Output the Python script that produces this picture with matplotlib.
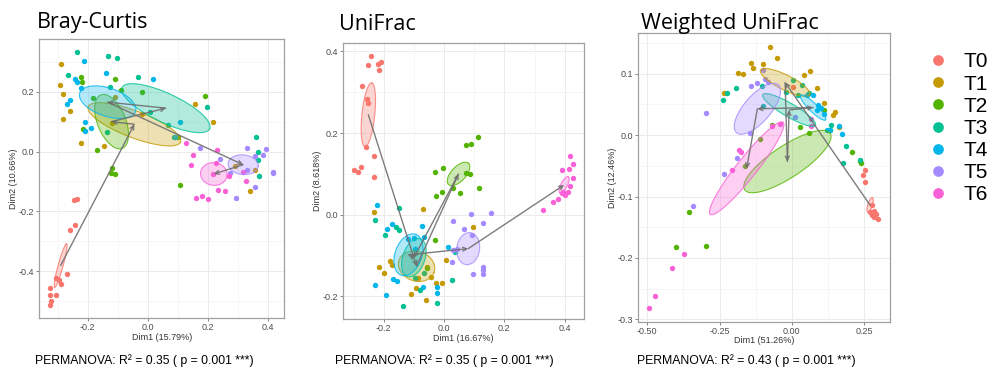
import numpy as np
import matplotlib
matplotlib.use("Agg")
import matplotlib.pyplot as plt

groups = ['T0', 'T1', 'T2', 'T3', 'T4', 'T5', 'T6']
colors = ['#F8766D', '#C49A00', '#53B400', '#00C094', '#00B6EB', '#A58AFF', '#FB61D7']

# ---- Bray-Curtis ordination ----
bc_pts = {
    'T0': [(-0.246, -0.161), (-0.234, -0.159), (-0.259, -0.261), (-0.242, -0.247), (-0.306, -0.422),
           (-0.294, -0.428), (-0.289, -0.442), (-0.270, -0.408), (-0.324, -0.456), (-0.324, -0.478),
           (-0.306, -0.478), (-0.322, -0.500), (-0.324, -0.511)],
    'T1': [(-0.287, 0.292), (-0.292, 0.222), (-0.281, 0.192), (-0.257, 0.137), (-0.283, 0.108),
           (-0.222, 0.030), (-0.146, 0.017), (-0.108, 0.181), (-0.118, 0.097), (-0.017, 0.124),
           (0.158, 0.159), (0.219, 0.098), (0.293, -0.047), (0.358, -0.061), (0.341, -0.133)],
    'T2': [(-0.222, 0.248), (-0.217, 0.233), (-0.214, 0.074), (-0.181, 0.179), (-0.170, 0.004),
           (-0.120, -0.056), (-0.123, -0.072), (-0.109, -0.076), (-0.109, 0.241), (-0.090, 0.206),
           (-0.020, 0.198), (0.108, -0.111), (0.191, 0.187), (0.102, 0.048)],
    'T3': [(-0.234, 0.333), (-0.131, 0.319), (-0.101, 0.311), (-0.264, 0.256), (-0.126, 0.217),
           (-0.031, 0.250), (-0.134, 0.067), (0.008, 0.133), (0.069, 0.089), (0.088, 0.048),
           (0.199, 0.150), (0.363, 0.050), (0.369, -0.003), (0.367, -0.028), (0.372, -0.083)],
    'T4': [(-0.211, 0.302), (-0.242, 0.244), (-0.234, 0.231), (-0.222, 0.213), (-0.257, 0.172),
           (-0.268, 0.158), (-0.207, 0.098), (-0.209, 0.069), (-0.187, 0.080), (-0.137, 0.261),
           (0.019, 0.241), (0.108, 0.098), (0.091, 0.048)],
    'T5': [(0.174, 0.013), (0.241, -0.026), (0.332, 0.013), (0.358, -0.014), (0.386, -0.011),
           (0.394, 0.009), (0.419, -0.067), (0.417, -0.072), (0.294, -0.156), (0.358, -0.120),
           (0.330, -0.063), (0.274, -0.072)],
    'T6': [(0.128, 0.028), (0.152, -0.011), (0.144, -0.044), (0.233, 0.006), (0.228, -0.037),
           (0.236, -0.130), (0.258, -0.131), (0.180, -0.150), (0.160, -0.156), (0.202, -0.158),
           (0.272, -0.083), (0.328, -0.097), (0.317, -0.069), (0.217, -0.074)],
}
bc_centroids = [(-0.290, -0.381), (-0.044, 0.091), (-0.120, 0.100), (0.061, 0.145),
                (-0.133, 0.165), (0.319, -0.044), (0.221, -0.075)]
# semi-major axis vector (data units) and minor/major ratio for each group ellipse
bc_ellipses = [(0.020, 0.073, 0.11), (0.154, -0.059, 0.27), (0.036, -0.089, 0.49), (0.146, -0.069, 0.30),
               (0.093, -0.031, 0.48), (0.050, -0.005, 0.65), (0.044, -0.006, 0.85)]

# ---- unweighted UniFrac ordination ----
uf_pts = {
    'T0': [(-0.242, 0.388), (-0.251, 0.367), (-0.220, 0.370), (-0.209, 0.374), (-0.214, 0.355),
           (-0.271, 0.316), (-0.256, 0.284), (-0.251, 0.273), (-0.260, 0.167), (-0.232, 0.143),
           (-0.275, 0.117), (-0.284, 0.106), (-0.298, 0.110), (-0.231, 0.092)],
    'T1': [(-0.231, 0.006), (-0.069, 0.014), (0.097, -0.029), (-0.215, -0.127), (-0.199, -0.143),
           (-0.179, -0.114), (-0.173, -0.124), (-0.057, -0.128), (-0.043, -0.153), (-0.027, -0.167),
           (-0.008, -0.167), (0.007, -0.110), (-0.094, -0.180), (-0.109, -0.193), (-0.060, -0.208),
           (-0.088, -0.155)],
    'T2': [(0.112, 0.190), (0.073, 0.171), (0.090, 0.173), (-0.030, 0.106), (-0.004, 0.114),
           (0.072, 0.102), (0.086, 0.100), (0.117, 0.065), (0.053, 0.053), (-0.028, 0.045),
           (-0.008, 0.055), (0.029, 0.065), (-0.030, -0.061), (-0.057, -0.131)],
    'T3': [(-0.229, -0.014), (-0.148, 0.016), (-0.159, -0.029), (-0.150, -0.037), (-0.196, -0.049),
           (-0.096, -0.155), (-0.080, -0.184), (-0.137, -0.224), (-0.024, -0.215), (0.025, -0.159),
           (0.036, -0.090), (-0.066, -0.143)],
    'T4': [(-0.221, 0.023), (-0.188, -0.035), (-0.173, -0.022), (-0.118, -0.060), (-0.098, -0.057),
           (-0.065, -0.055), (-0.073, -0.027), (-0.096, -0.084), (-0.170, -0.158), (-0.155, -0.163),
           (-0.229, -0.173), (-0.192, -0.196), (-0.069, -0.176), (-0.022, -0.177), (-0.024, -0.192),
           (0.014, -0.079)],
    'T5': [(0.031, -0.015), (0.088, 0.002), (0.156, 0.004), (0.066, -0.034), (0.128, -0.019),
           (0.092, -0.049), (0.029, -0.086), (0.025, -0.116), (0.042, -0.084), (0.130, -0.127),
           (0.130, -0.136), (0.130, -0.144), (0.097, -0.144)],
    'T6': [(0.418, 0.144), (0.390, 0.109), (0.427, 0.125), (0.415, 0.113), (0.429, 0.091),
           (0.418, 0.071), (0.396, 0.057), (0.401, 0.049), (0.412, 0.055), (0.390, 0.053),
           (0.377, 0.038), (0.362, 0.031), (0.327, 0.011)],
}
uf_centroids = [(-0.251, 0.245), (-0.091, -0.126), (0.048, 0.100), (-0.100, -0.105),
                (-0.118, -0.098), (0.080, -0.083), (0.398, 0.073)]
uf_ellipses = [(0.011, 0.078, 0.20), (0.058, -0.015, 0.80), (0.033, 0.026, 0.50), (0.021, 0.046, 0.56),
               (0.024, 0.050, 0.62), (0.007, 0.039, 0.71), (0.014, 0.020, 0.35)]

# ---- weighted UniFrac ordination ----
wuf_pts = {
    'T0': [(0.252, -0.057), (0.246, -0.065), (0.254, -0.076), (0.277, -0.114), (0.285, -0.123),
           (0.291, -0.128), (0.285, -0.133), (0.277, -0.130), (0.300, -0.137), (0.271, -0.126),
           (0.006, 0.078)],
    'T1': [(-0.075, 0.144), (-0.052, 0.126), (-0.141, 0.118), (-0.135, 0.110), (-0.100, 0.116),
           (-0.185, 0.102), (-0.170, 0.099), (0.063, 0.105), (0.044, 0.098), (0.089, 0.077),
           (0.110, 0.052), (0.150, 0.038), (0.144, 0.033), (0.162, 0.014), (-0.234, 0.069)],
    'T2': [(-0.069, 0.016), (-0.110, -0.007), (0.029, 0.014), (0.058, 0.004), (-0.162, -0.050),
           (0.208, -0.027), (0.237, -0.042), (0.239, -0.046), (-0.354, -0.125), (-0.400, -0.183),
           (-0.298, -0.180), (0.110, 0.041)],
    'T3': [(-0.237, 0.058), (-0.223, 0.069), (-0.193, 0.077), (-0.104, 0.080), (0.006, 0.090),
           (0.035, 0.081), (0.023, 0.066), (0.058, 0.068), (-0.020, 0.071), (-0.100, 0.047),
           (0.136, 0.016), (0.133, 0.008), (0.187, -0.017), (0.177, -0.046), (0.237, -0.041)],
    'T4': [(0.092, 0.049), (0.102, 0.045), (0.087, 0.041), (0.112, 0.035), (0.121, 0.009),
           (0.133, 0.009), (0.165, 0.015), (0.175, 0.002), (0.075, 0.065), (0.054, 0.066)],
    'T5': [(-0.297, 0.036), (-0.141, 0.080), (-0.121, 0.085), (-0.100, 0.106), (-0.092, 0.091),
           (-0.081, 0.087), (-0.190, -0.038), (-0.234, -0.064), (-0.144, 0.004), (-0.343, -0.116),
           (0.012, 0.030)],
    'T6': [(-0.040, 0.018), (-0.067, 0.015), (-0.181, -0.024), (-0.177, -0.028), (-0.208, -0.057),
           (0.067, 0.027), (0.067, 0.015), (-0.415, -0.216), (-0.372, -0.193), (-0.473, -0.262),
           (-0.493, -0.281)],
}
wuf_centroids = [(0.271, -0.114), (-0.023, 0.086), (-0.015, -0.043), (-0.009, 0.041),
                 (0.074, 0.045), (-0.119, 0.043), (-0.156, -0.054)]
wuf_ellipses = [(0.008, 0.012, 0.30), (0.085, -0.020, 0.27), (0.148, 0.046, 0.31), (0.091, -0.025, 0.22),
                (0.043, -0.020, 0.24), (0.072, 0.039, 0.42), (0.126, 0.075, 0.17)]

W, H = 997, 374
fig = plt.figure(figsize=(W / 100, H / 100), dpi=100)
fig.patch.set_facecolor('white')

AX_FONT = ['Liberation Sans', 'DejaVu Sans']


def make_axes(box, xlim, ylim, xticks, yticks, xfmt, yfmt, xlabel, ylabel):
    left, top, right, bottom = box
    ax = fig.add_axes([left / W, 1 - bottom / H, (right - left) / W, (bottom - top) / H])
    ax.set_xticks(xticks)
    ax.set_yticks(yticks)
    ax.set_xticklabels([xfmt % v for v in xticks], fontsize=6.5, color='#4D4D4D', family=AX_FONT)
    ax.set_yticklabels([yfmt % v for v in yticks], fontsize=6.5, color='#4D4D4D', family=AX_FONT)
    dx = xticks[1] - xticks[0]
    dy = yticks[1] - yticks[0]
    ax.set_xticks(np.arange(xticks[0] - dx * 1.5, xticks[-1] + dx, dx), minor=True)
    ax.set_yticks(np.arange(yticks[0] - dy * 1.5, yticks[-1] + dy, dy), minor=True)
    ax.set_xlim(*xlim)
    ax.set_ylim(*ylim)
    ax.set_autoscale_on(False)
    ax.tick_params(which='minor', length=0)
    ax.tick_params(which='major', length=2, width=0.5, color='#555555', pad=1.5)
    ax.grid(which='major', color='#EBEBEB', lw=0.7)
    ax.grid(which='minor', color='#F3F3F3', lw=0.5)
    ax.set_axisbelow(True)
    for sp in ax.spines.values():
        sp.set_color('#A0A0A0')
        sp.set_linewidth(0.9)
    ax.set_xlabel(xlabel, fontsize=6.5, color='#333333', family=AX_FONT, labelpad=0.5)
    ax.set_ylabel(ylabel, fontsize=6.5, color='#333333', family=AX_FONT, labelpad=1)
    return ax


def draw_panel(ax, pts, centroids, ellipses):
    for g, c in zip(groups, colors):
        arr = np.array(pts[g])
        ax.scatter(arr[:, 0], arr[:, 1], s=15, color=c, linewidths=0, zorder=2)

    # pixels per data unit, so the minor axis stays perpendicular on screen
    bb = ax.get_position()
    x0, x1 = ax.get_xlim()
    y0, y1 = ax.get_ylim()
    kx = bb.width * W / (x1 - x0)
    ky = bb.height * H / (y1 - y0)
    t = np.linspace(0, 2 * np.pi, 120)
    for (cx, cy), (ux, uy, ratio), c in zip(centroids, ellipses, colors):
        vx = -uy * ky * ratio / kx
        vy = ux * kx * ratio / ky
        ex = cx + np.cos(t) * ux + np.sin(t) * vx
        ey = cy + np.cos(t) * uy + np.sin(t) * vy
        ax.fill(ex, ey, facecolor=c, alpha=0.3, edgecolor='none', zorder=3)
        ax.plot(ex, ey, color=c, lw=0.8, alpha=0.8, zorder=3)

    for a, b in zip(centroids[:-1], centroids[1:]):
        ax.annotate('', xy=b, xytext=a,
                    arrowprops=dict(arrowstyle='->', color='#6E6E6E', lw=1.0, alpha=0.9,
                                    mutation_scale=7, shrinkA=0, shrinkB=0), zorder=4)
    ax.set_xlim(x0, x1)
    ax.set_ylim(y0, y1)


ax1 = make_axes((39.3, 39, 284, 318), (-0.361, 0.455), (-0.556, 0.376),
                [-0.2, 0.0, 0.2, 0.4], [-0.4, -0.2, 0.0, 0.2], '%.1f', '%.1f',
                'Dim1 (15.79%)', 'Dim2 (10.66%)')
draw_panel(ax1, bc_pts, bc_centroids, bc_ellipses)

ax2 = make_axes((343.3, 43.3, 584, 319.3), (-0.334, 0.464), (-0.256, 0.420),
                [-0.2, 0.0, 0.2, 0.4], [-0.2, 0.0, 0.2, 0.4], '%.1f', '%.1f',
                'Dim1 (16.67%)', 'Dim2 (8.618%)')
draw_panel(ax2, uf_pts, uf_centroids, uf_ellipses)

ax3 = make_axes((638.3, 33.3, 890, 321.7), (-0.531, 0.340), (-0.304, 0.166),
                [-0.50, -0.25, 0.00, 0.25], [-0.3, -0.2, -0.1, 0.0, 0.1], '%.2f', '%.1f',
                'Dim1 (51.26%)', 'Dim2 (12.46%)')
draw_panel(ax3, wuf_pts, wuf_centroids, wuf_ellipses)

# panel titles
TITLE_FONT = ['Open Sans', 'DejaVu Sans']
fig.text(37 / W, 1 - 28 / H, 'Bray-Curtis', fontsize=15.5, family=TITLE_FONT, va='baseline')
fig.text(339 / W, 1 - 30 / H, 'UniFrac', fontsize=15.5, family=TITLE_FONT, va='baseline')
fig.text(641 / W, 1 - 29.5 / H, 'Weighted UniFrac', fontsize=15.5, family=TITLE_FONT, va='baseline')

# PERMANOVA results
NOTE_FONT = ['Liberation Sans', 'DejaVu Sans']
for x, r2 in [(35, '0.35'), (335, '0.35'), (637, '0.43')]:
    fig.text(x / W, 1 - 361 / H, 'PERMANOVA: R\u00b2 = %s ( p = 0.001 ***)' % r2, fontsize=8.8,
             family=NOTE_FONT, va='center')

# legend
handles = [plt.Line2D([], [], marker='o', ls='', color=c, markersize=7.7, markeredgewidth=0)
           for c in colors]
fig.legend(handles, groups, loc='upper left', bbox_to_anchor=(917 / W, 1 - 42 / H),
           frameon=False, prop={'family': AX_FONT, 'size': 15}, labelspacing=0.15,
           handletextpad=0.75, handlelength=1.0, borderpad=0)

fig.savefig('out.png', dpi=100)
